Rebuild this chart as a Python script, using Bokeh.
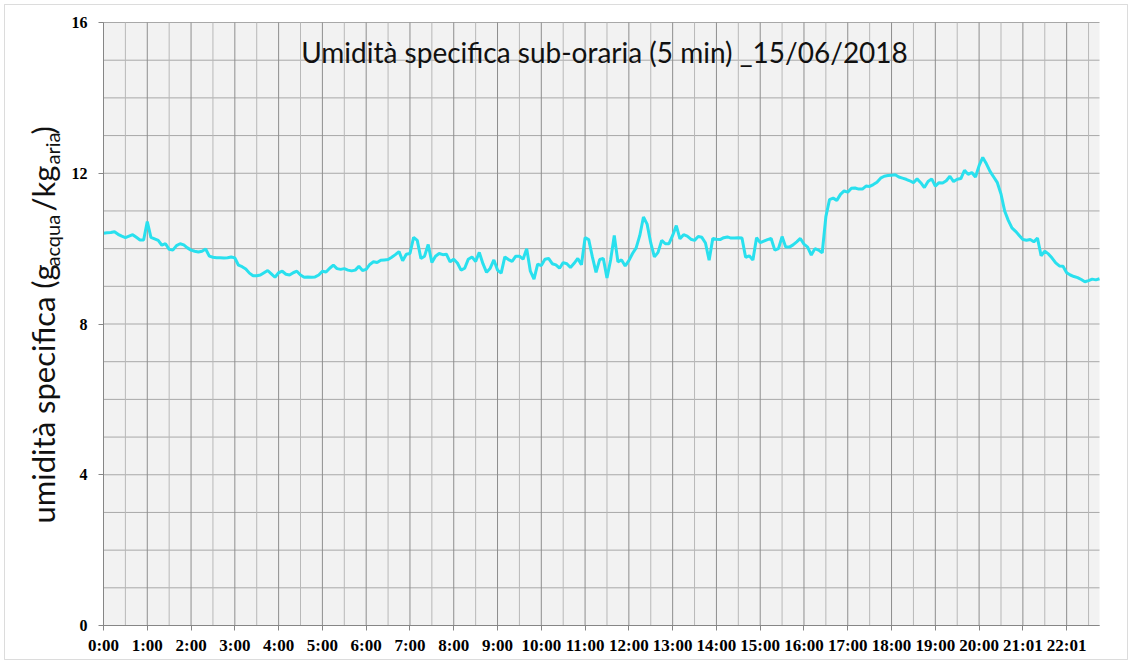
from bokeh.plotting import figure
from bokeh.models import Range1d, FixedTicker, Label, BoxAnnotation
from bokeh.embed import file_html
from bokeh.resources import INLINE
import math

# ---- data (specific humidity every 5 minutes, g/kg) ----
tick_labels = ["0:00", "1:00", "2:00", "3:00", "4:00", "5:00", "6:00", "7:00",
               "8:00", "9:00", "10:00", "11:00", "12:00", "13:00", "14:00",
               "15:00", "16:00", "17:00", "18:00", "19:00", "20:00", "21:01", "22:01"]
y_ticks = [0, 4, 8, 12, 16]

h00_03 = [10.41, 10.42, 10.43, 10.45, 10.38, 10.33, 10.29, 10.33, 10.37, 10.30, 10.23, 10.23,
          10.72, 10.30, 10.26, 10.22, 10.09, 10.13, 9.98, 9.96, 10.08, 10.13, 10.10, 10.02,
          9.96, 9.93, 9.91, 9.93, 9.99, 9.80, 9.77, 9.76, 9.76, 9.75, 9.76, 9.78]
h03_06 = [9.75, 9.56, 9.52, 9.46, 9.35, 9.28, 9.28, 9.30, 9.36, 9.42, 9.33, 9.24,
          9.36, 9.40, 9.32, 9.30, 9.36, 9.40, 9.30, 9.24, 9.25, 9.24, 9.25, 9.30,
          9.40, 9.38, 9.48, 9.56, 9.47, 9.45, 9.47, 9.43, 9.41, 9.43, 9.53, 9.42]
h06_09 = [9.45, 9.58, 9.65, 9.63, 9.69, 9.70, 9.71, 9.77, 9.84, 9.92, 9.68, 9.85,
          9.87, 10.30, 10.22, 9.74, 9.80, 10.11, 9.63, 9.80, 9.87, 9.84, 9.85, 9.65,
          9.72, 9.62, 9.43, 9.48, 9.72, 9.78, 9.66, 9.90, 9.60, 9.37, 9.48, 9.70]
h09_12 = [9.43, 9.35, 9.78, 9.71, 9.66, 9.80, 9.80, 9.72, 10.00, 9.40, 9.19, 9.59,
          9.55, 9.72, 9.74, 9.60, 9.57, 9.48, 9.63, 9.60, 9.50, 9.61, 9.74, 9.57,
          10.29, 10.24, 9.78, 9.37, 9.71, 9.74, 9.22, 9.70, 10.35, 9.65, 9.70, 9.54]
h12_15 = [9.68, 9.87, 10.02, 10.35, 10.84, 10.65, 10.15, 9.78, 9.90, 10.22, 10.13, 10.13,
          10.35, 10.61, 10.26, 10.37, 10.33, 10.25, 10.22, 10.32, 10.30, 10.15, 9.69, 10.27,
          10.25, 10.24, 10.29, 10.31, 10.28, 10.28, 10.29, 10.28, 9.77, 9.81, 9.70, 10.29]
h15_18 = [10.16, 10.20, 10.24, 10.27, 9.96, 10.00, 10.32, 10.04, 10.04, 10.10, 10.18, 10.27,
          10.12, 10.04, 9.83, 10.00, 9.96, 9.89, 10.85, 11.30, 11.34, 11.28, 11.44, 11.53,
          11.50, 11.60, 11.61, 11.58, 11.58, 11.66, 11.65, 11.70, 11.76, 11.87, 11.92, 11.94]
h18_21 = [11.95, 11.96, 11.90, 11.87, 11.84, 11.80, 11.75, 11.85, 11.75, 11.62, 11.78, 11.85,
          11.66, 11.75, 11.74, 11.80, 11.92, 11.78, 11.84, 11.86, 12.08, 11.97, 12.02, 11.90,
          12.20, 12.42, 12.25, 12.05, 11.90, 11.75, 11.45, 11.00, 10.75, 10.55, 10.46, 10.35]
h21_23 = [10.24, 10.22, 10.24, 10.18, 10.28, 9.81, 9.93, 9.86, 9.75, 9.62, 9.54, 9.53,
          9.36, 9.30, 9.26, 9.23, 9.18, 9.12, 9.15, 9.19, 9.17, 9.20]

values = h00_03 + h03_06 + h06_09 + h09_12 + h12_15 + h15_18 + h18_21 + h21_23
idx = list(range(len(values)))
PER_HOUR = 12
X_END = idx[-1]
Y_MAX = 16

hour_ticks = [i * PER_HOUR for i in range(len(tick_labels))]
half_ticks = [t + PER_HOUR // 2 for t in hour_ticks if t + PER_HOUR // 2 <= X_END]
minor_y = list(range(0, Y_MAX + 1))

# ---- layout: the frame covers the whole canvas; plot area placed by ranges ----
W, H = 1130, 664
PX_LEFT, PX_RIGHT, PX_TOP, PX_BOTTOM = 103, 1099, 22, 625
XS = (PX_RIGHT - PX_LEFT) / X_END
YS = (PX_BOTTOM - PX_TOP) / Y_MAX

def dx(px):
    return (px - PX_LEFT) / XS

def dy(py):
    return (PX_BOTTOM - py) / YS

p = figure(width=W, height=H,
           x_range=Range1d(dx(0), dx(W)), y_range=Range1d(dy(H), dy(0)),
           output_backend="svg", toolbar_location=None,
           min_border=0)
p.background_fill_color = "white"
p.border_fill_color = "white"
p.outline_line_color = None
p.grid.visible = False

# plot-area background
p.add_layout(BoxAnnotation(left=0, right=X_END, bottom=0, top=Y_MAX,
                           fill_color="#f2f2f2", fill_alpha=1, line_color=None,
                           level="image"))

# grid lines (limited to the plot area)
p.segment(x0=[0] * len(minor_y), y0=minor_y, x1=[X_END] * len(minor_y), y1=minor_y,
          line_color="#a8a8a8", line_width=1, level="underlay")
p.segment(x0=half_ticks, y0=[0] * len(half_ticks), x1=half_ticks, y1=[Y_MAX] * len(half_ticks),
          line_color="#b8b8b8", line_width=1, level="underlay")
p.segment(x0=hour_ticks, y0=[0] * len(hour_ticks), x1=hour_ticks, y1=[Y_MAX] * len(hour_ticks),
          line_color="#8e8e8e", line_width=1, level="underlay")

# axes fixed at the plot-area edges
p.xaxis.fixed_location = 0
p.yaxis.fixed_location = 0
p.xaxis.bounds = (0, X_END)
p.yaxis.bounds = (0, Y_MAX)
p.xaxis.ticker = FixedTicker(ticks=hour_ticks)
p.xaxis.major_label_overrides = {t: lab for t, lab in zip(hour_ticks, tick_labels)}
p.yaxis.ticker = FixedTicker(ticks=y_ticks)
for ax in (p.xaxis, p.yaxis):
    ax.axis_line_color = "#868686"
    ax.major_tick_line_color = "#868686"
    ax.major_tick_in = 0
    ax.major_tick_out = 5
    ax.minor_tick_line_color = None
    ax.major_label_text_font = "Liberation Serif"
    ax.major_label_text_font_style = "bold"
    ax.major_label_text_color = "#000000"
p.xaxis.major_label_text_font_size = "17px"
p.xaxis.major_label_standoff = 5
p.yaxis.major_label_text_font_size = "16px"
p.yaxis.major_label_standoff = 11

# series
p.line(idx, values, line_color="#29e0ee", line_width=3)

# title inside plot
p.add_layout(Label(x=dx(604), y=dy(51), text="Umidità specifica sub-oraria (5 min) _15/06/2018",
                   text_font="Lato", text_font_size="28px", text_color="#111111",
                   text_align="center", text_baseline="alphabetic"))

# y-axis label with subscripts (rotated pieces)
pieces = [
    ("umidità specifica (g", 523, 42, "31px"),
    ("acqua", 266, 51, "20px"),
    ("/kg", 211, 42, "31px"),
    ("aria", 164, 51, "20px"),
    (")", 134, 42, "31px"),
]
for txt, py, px, fs in pieces:
    p.add_layout(Label(x=dx(px), y=dy(py), text=txt, angle=math.pi / 2,
                       text_font="Lato", text_font_size=fs, text_color="#111111",
                       text_align="left", text_baseline="alphabetic"))

# outer chart border
p.add_layout(BoxAnnotation(left=dx(4), right=dx(1127), bottom=dy(659), top=dy(4),
                           fill_alpha=0, line_color="#8a8a8a", line_width=1))

open("out.html", "w").write(file_html(p, INLINE))
